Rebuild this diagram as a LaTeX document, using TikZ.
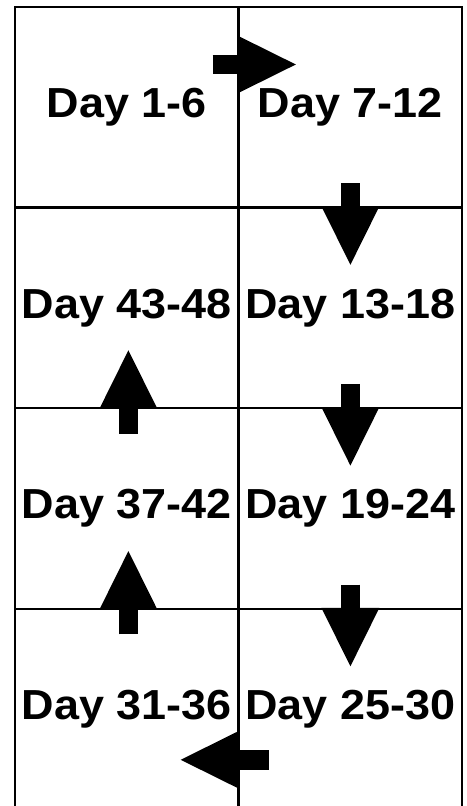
\documentclass[tikz,border=0pt]{standalone}
\usepackage{fontspec}
\newfontfamily\dayfont{Liberation Sans}[FakeStretch=1.07]
\usetikzlibrary{arrows.meta}

\begin{document}
\begin{tikzpicture}[x=1pt, y=1pt,
      cell/.style={draw, line width=2.4pt, minimum width=223.75pt, minimum height=200.6pt,
                   inner sep=0pt, font=\dayfont\bfseries\fontsize{42}{50}\selectfont},
      flow/.style={line width=19.5pt,
                   -{Triangle[length=58.5pt, width=58pt, line width=0pt]}}]

    \useasboundingbox (0,0) rectangle (466,806);

    % ============================
    % CELLS (two columns, four rows)
    % ============================
    \node[cell] (d1) at (126.6, 698.7) {Day 1-6};
    \node[cell] (d2) at (350.4, 698.7) {Day 7-12};
    \node[cell] (d8) at (126.6, 498.2) {Day 43-48};
    \node[cell] (d3) at (350.4, 498.2) {Day 13-18};
    \node[cell] (d7) at (126.6, 297.4) {Day 37-42};
    \node[cell] (d4) at (350.4, 297.4) {Day 19-24};
    \node[cell] (d6) at (126.6, 96.7)  {Day 31-36};
    \node[cell] (d5) at (350.4, 96.7)  {Day 25-30};

    % ============================
    % FLOW ARROWS (straddling the cell borders)
    % ============================
    \draw[flow] ([shift={(-27,42.8)}]d1.east) -- ([shift={(58.5,42.8)}]d2.west);

    % right column, downwards
    \foreach \a/\b in {d2/d3, d3/d4, d4/d5} {
      \draw[flow] ([yshift=25.5]\a.south) -- ([yshift=-58.5]\b.north);
    }

    \draw[flow] ([shift={(31.5,-50.5)}]d5.west) -- ([shift={(-59,-50.5)}]d6.east);

    % left column, upwards
    \foreach \a/\b in {d6/d7, d7/d8} {
      \draw[flow] ([shift={(1.8,-26.5)}]\a.north) -- ([shift={(1.8,59)}]\b.south);
    }

\end{tikzpicture}
\end{document}
